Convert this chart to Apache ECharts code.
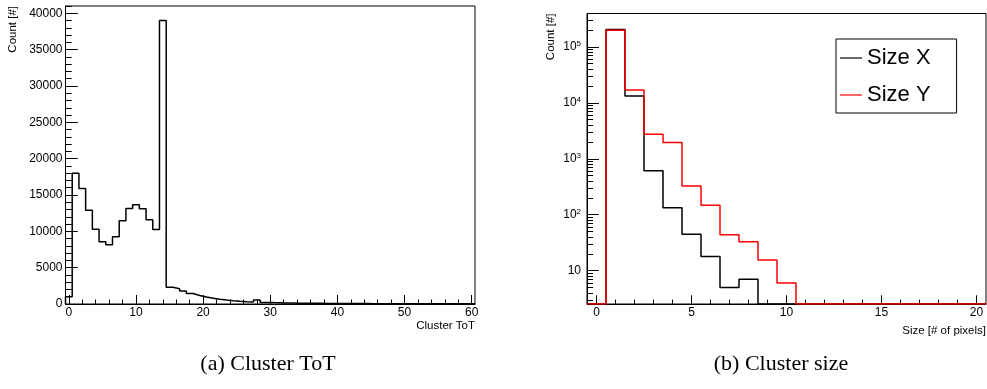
<!DOCTYPE html>
<html>
<head>
<meta charset="utf-8">
<script src="https://cdn.jsdelivr.net/npm/echarts@6/dist/echarts.min.js"></script>
<style>
  html, body { margin: 0; padding: 0; background: #fff; }
  #chart { width: 987px; height: 389px; }
</style>
</head>
<body>
<div id="chart"></div>
<script>
// ---------- data: (a) Cluster ToT ----------
const totCenters = [0,1,2,3,4,5,6,7,8,9,10,11,12,13,14,15,16,17,18,19,20,21,22,23,24,25,26,27,28,29,30,
  31,32,33,34,35,36,37,38,39,40,41,42,43,44,45,46,47,48,49,50,51,52,53,54,55,56,57,58,59,60];
const totCounts = [1000,18000,15900,12900,10300,8550,8150,9250,11450,13150,13650,13100,11600,10250,39000,
  2300,2100,1780,1450,1180,950,800,650,540,450,380,320,280,560,220,190,
  170,150,135,120,110,100,92,85,78,72,66,60,56,52,48,45,42,40,38,36,34,32,30,29,28,27,26,25,24,23];
const totXTickLabels = [0,10,20,30,40,50,60];
const totYTickLabels = [0,5000,10000,15000,20000,25000,30000,35000,40000];

// ---------- data: (b) Cluster size ----------
const sizeCenters = [0,1,2,3,4,5,6,7,8,9,10,11,12,13,14,15,16,17,18,19,20];
const sizeXCounts = [0,205000,13200,610,133,45,18,5,7,0,0,0,0,0,0,0,0,0,0,0,0];
const sizeYCounts = [0,198000,16900,2750,1950,325,148,44,33,15.5,6,0,0,0,0,0,0,0,0,0,0];
const sizeXTickLabels = [0,5,10,15,20];
const sizeYTickLabels = [10,100,1000,10000,100000];

const seriesNames = ['Size X', 'Size Y'];
const captions = ['(a) Cluster ToT', '(b) Cluster size'];
const axisTitles = { totX: 'Cluster ToT', totY: 'Count [#]', sizeX: 'Size [# of pixels]', sizeY: 'Count [#]' };

// ---------- helpers ----------
function minorLinear(lo, hi, step, majorStep) {
  const out = [];
  for (let v = lo; v <= hi + 1e-9; v += step) {
    if (Math.abs(v / majorStep - Math.round(v / majorStep)) > 1e-9) out.push(+v.toFixed(6));
  }
  return out;
}
function minorLog(lo, hi) {
  const out = [];
  for (let e = 0; e <= 6; e++) {
    for (let m = 2; m <= 9; m++) {
      const v = m * Math.pow(10, e);
      if (v >= lo && v <= hi) out.push(v);
    }
  }
  return out;
}
// step outline points (bin edges) for a histogram drawn with step:'end'
function histPoints(centers, values, floor) {
  const w = centers[1] - centers[0];
  const pts = [[centers[0] - w / 2, floor]];
  centers.forEach((c, i) => pts.push([c - w / 2, Math.max(values[i], floor)]));
  const last = centers.length - 1;
  pts.push([centers[last] + w / 2, Math.max(values[last], floor)]);
  pts.push([centers[last] + w / 2, floor]);
  return pts;
}

const FONT = 'Liberation Sans';
const totXMin = totCenters[0] - 0.5, totXMax = totCenters[totCenters.length - 1] + 0.5;
const sizeXMin = sizeCenters[0] - 0.5, sizeXMax = sizeCenters[sizeCenters.length - 1] + 0.5;
const totYMax = 41000;
const sizeYMin = 2.54, sizeYMax = 395000;

const labelStyle = { color: '#000', fontFamily: FONT, fontSize: 12 };
const blackLine = { color: '#000', width: 1 };

function xAxes(grid, min, max, major, minor, majLen, minLen) {
  return [
    { gridIndex: grid, type: 'value', min, max, position: 'bottom',
      axisLine: { show: true, onZero: false, lineStyle: blackLine },
      axisTick: { show: true, inside: true, length: majLen, customValues: major, lineStyle: blackLine },
      axisLabel: Object.assign({ show: true, margin: 3, customValues: major, formatter: v => String(v) }, labelStyle),
      splitLine: { show: false } },
    { gridIndex: grid, type: 'value', min, max, position: 'bottom', offset: 0,
      axisLine: { show: false, onZero: false },
      axisTick: { show: true, inside: true, length: minLen, customValues: minor, lineStyle: blackLine },
      axisLabel: { show: false }, splitLine: { show: false } }
  ];
}

const chart = echarts.init(document.getElementById('chart'), null, { renderer: 'canvas' });

const option = {
  animation: false,
  backgroundColor: '#fff',
  grid: [
    { left: 65.5, top: 6, width: 409.5, height: 298, show: true, borderColor: '#000', borderWidth: 1, backgroundColor: 'transparent', containLabel: false },
    { left: 587, top: 13.5, width: 399, height: 290.5, show: true, borderColor: '#000', borderWidth: 1, backgroundColor: 'transparent', containLabel: false }
  ],
  xAxis: [
    ...xAxes(0, totXMin, totXMax, totXTickLabels, minorLinear(0, 60, 2, 10), 9, 4.5),
    ...xAxes(1, sizeXMin, sizeXMax, sizeXTickLabels, minorLinear(0, 20, 1, 5), 8.7, 4.4)
  ],
  yAxis: [
    { gridIndex: 0, type: 'value', min: 0, max: totYMax, position: 'left',
      axisLine: { show: true, onZero: false, lineStyle: blackLine },
      axisTick: { show: true, inside: true, length: 12.3, customValues: totYTickLabels, lineStyle: blackLine },
      axisLabel: Object.assign({ show: true, margin: 3, customValues: totYTickLabels, formatter: v => String(v) }, labelStyle),
      splitLine: { show: false } },
    { gridIndex: 0, type: 'value', min: 0, max: totYMax, position: 'left', offset: 0,
      axisLine: { show: false, onZero: false },
      axisTick: { show: true, inside: true, length: 6.2, customValues: minorLinear(0, 41000, 1000, 5000), lineStyle: blackLine },
      axisLabel: { show: false }, splitLine: { show: false } },
    { gridIndex: 1, type: 'log', logBase: 10, min: sizeYMin, max: sizeYMax, position: 'left',
      axisLine: { show: true, onZero: false, lineStyle: blackLine },
      axisTick: { show: true, inside: true, length: 12, customValues: sizeYTickLabels, lineStyle: blackLine },
      axisLabel: { show: true, margin: 6, customValues: sizeYTickLabels, color: '#000', fontFamily: FONT, fontSize: 12,
        formatter: v => {
          const e = Math.round(Math.log10(v));
          return e === 1 ? '{b|10}' : '{b|10}{sup|' + e + '}';
        },
        rich: {
          b: { fontSize: 12, fontFamily: FONT, color: '#000', lineHeight: 14 },
          sup: { fontSize: 8, fontFamily: FONT, color: '#000', verticalAlign: 'top', lineHeight: 9 }
        } },
      splitLine: { show: false } },
    { gridIndex: 1, type: 'log', logBase: 10, min: sizeYMin, max: sizeYMax, position: 'left', offset: 0,
      axisLine: { show: false, onZero: false },
      axisTick: { show: true, inside: true, length: 6, customValues: minorLog(sizeYMin, sizeYMax), lineStyle: blackLine },
      axisLabel: { show: false }, splitLine: { show: false } }
  ],
  legend: {
    data: seriesNames,
    orient: 'vertical',
    left: 836, top: 39,
    padding: [8, 26, 7, 4],
    itemGap: 15,
    icon: 'rect',
    itemWidth: 22, itemHeight: 1.2,
    borderColor: '#000', borderWidth: 1,
    backgroundColor: '#fff',
    textStyle: { color: '#000', fontFamily: FONT, fontSize: 22, lineHeight: 22 }
  },
  series: [
    { type: 'line', name: 'ToT', xAxisIndex: 0, yAxisIndex: 0, step: 'end', symbol: 'none', clip: true,
      lineStyle: { color: '#000', width: 1.5 }, itemStyle: { color: '#000' },
      data: histPoints(totCenters, totCounts, 0) },
    { type: 'line', name: seriesNames[0], xAxisIndex: 2, yAxisIndex: 2, step: 'end', symbol: 'none', clip: true,
      lineStyle: { color: '#000', width: 1.5 }, itemStyle: { color: '#000' },
      data: histPoints(sizeCenters, sizeXCounts, sizeYMin) },
    { type: 'line', name: seriesNames[1], xAxisIndex: 2, yAxisIndex: 2, step: 'end', symbol: 'none', clip: true,
      lineStyle: { color: '#ff0000', width: 1.5 }, itemStyle: { color: '#ff0000' },
      data: histPoints(sizeCenters, sizeYCounts, sizeYMin) }
  ],
  graphic: [
    { type: 'text', x: 475, y: 326, style: { text: axisTitles.totX, fill: '#000', font: '11.5px "Liberation Sans"', align: 'right', verticalAlign: 'middle' } },
    { type: 'text', x: 13, y: 6, rotation: Math.PI / 2, style: { text: axisTitles.totY, fill: '#000', font: '11.5px "Liberation Sans"', align: 'right', verticalAlign: 'middle' } },
    { type: 'text', x: 986, y: 331, style: { text: axisTitles.sizeX, fill: '#000', font: '11.5px "Liberation Sans"', align: 'right', verticalAlign: 'middle' } },
    { type: 'text', x: 551, y: 13.5, rotation: Math.PI / 2, style: { text: axisTitles.sizeY, fill: '#000', font: '11.5px "Liberation Sans"', align: 'right', verticalAlign: 'middle' } },
    { type: 'text', x: 268, y: 364, style: { text: captions[0], fill: '#000', font: '22px "Liberation Serif"', align: 'center', verticalAlign: 'middle' } },
    { type: 'text', x: 781, y: 364, style: { text: captions[1], fill: '#000', font: '22px "Liberation Serif"', align: 'center', verticalAlign: 'middle' } }
  ]
};
chart.setOption(option);
</script>
</body>
</html>
